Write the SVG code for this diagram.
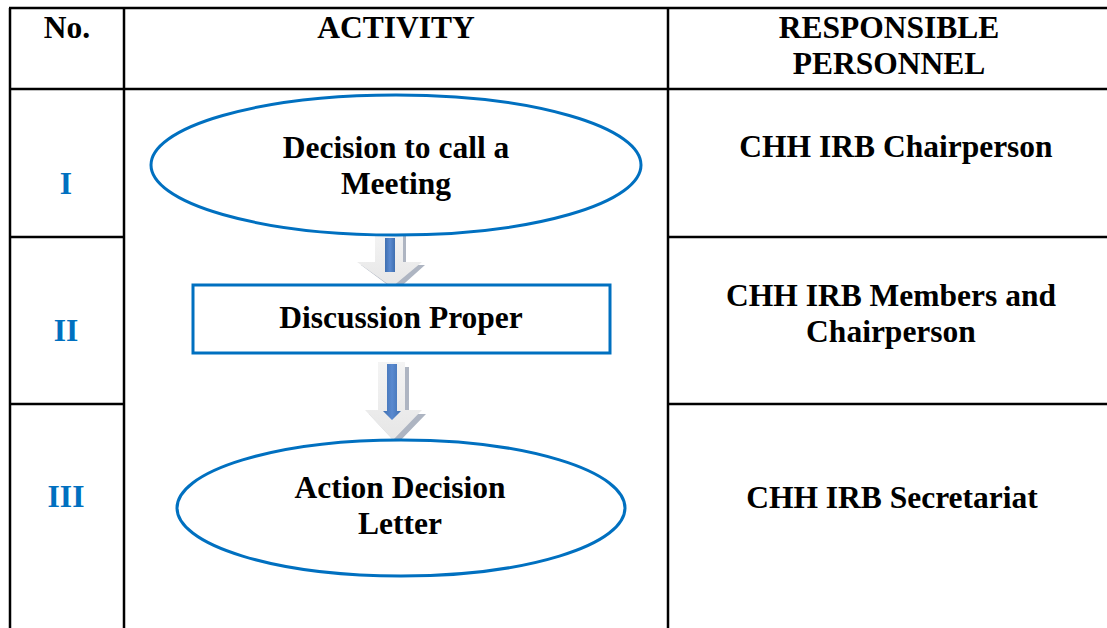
<svg xmlns="http://www.w3.org/2000/svg" width="1107" height="628" viewBox="0 0 1107 628">
<style>
.grid{stroke:#000;stroke-width:2.5;fill:none}
.hd{font-family:"Liberation Serif","Times New Roman",serif;font-weight:bold;font-size:31.5px;fill:#000;text-anchor:middle}
.num{font-family:"Liberation Serif","Times New Roman",serif;font-weight:bold;font-size:31.5px;fill:#0070C0;text-anchor:middle}
.shape{fill:#fff;stroke:#0070C0;stroke-width:3}
</style>
<defs>
<linearGradient id="blue" x1="0" y1="0" x2="1" y2="0">
<stop offset="0" stop-color="#3f6fb0"/><stop offset="0.5" stop-color="#5a8ad0"/><stop offset="1" stop-color="#3f6fb0"/>
</linearGradient>
<linearGradient id="gray" x1="0" y1="0" x2="0" y2="1">
<stop offset="0" stop-color="#f4f4f4"/><stop offset="1" stop-color="#e6e6e6"/>
</linearGradient>
</defs>
<rect width="1107" height="628" fill="#fff"/>
<g id="table">
<line class="grid" x1="9" y1="8" x2="1107" y2="8"/>
<line class="grid" x1="9" y1="89" x2="1107" y2="89"/>
<line class="grid" x1="10" y1="8" x2="10" y2="628"/>
<line class="grid" x1="124" y1="8" x2="124" y2="628"/>
<line class="grid" x1="668" y1="8" x2="668" y2="628"/>
<line class="grid" x1="9" y1="237" x2="124" y2="237"/>
<line class="grid" x1="668" y1="237" x2="1107" y2="237"/>
<line class="grid" x1="9" y1="404" x2="124" y2="404"/>
<line class="grid" x1="668" y1="404" x2="1107" y2="404"/>
<text class="hd" x="67" y="38">No.</text>
<text class="hd" x="396" y="38">ACTIVITY</text>
<text class="hd" x="889" y="38">RESPONSIBLE</text>
<text class="hd" x="889" y="74">PERSONNEL</text>
<text class="num" x="66" y="194">I</text>
<text class="num" x="66" y="341">II</text>
<text class="num" x="66" y="507">III</text>
<text class="hd" x="896" y="157">CHH IRB Chairperson</text>
<text class="hd" x="891" y="306">CHH IRB Members and</text>
<text class="hd" x="891" y="342">Chairperson</text>
<text class="hd" x="892" y="508">CHH IRB Secretariat</text>
</g>
<g id="connectors">
<g id="arrow1">
<path d="M379 236 H406 V265 H425 L396 291 L361 265 H379 Z" fill="#9aa3b3" opacity="0.8"/>
<path d="M375 232 H403 V262 H422 L392 287 L357 262 H375 Z" fill="url(#gray)"/>
<rect x="385" y="238" width="10" height="34" fill="url(#blue)"/>
</g>
<g id="arrow2">
<path d="M382 367 H409 V414 H426 L397 444 L369 414 H382 Z" fill="#9aa3b3" opacity="0.8"/>
<path d="M378 362 H405 V410 H422 L393 440 L365 410 H378 Z" fill="url(#gray)"/>
<path d="M387 364 H397 V411 H401 L392 420 L383 411 H387 Z" fill="url(#blue)"/>
</g>
</g>
<g id="node1">
<ellipse class="shape" cx="396" cy="165" rx="245" ry="70"/>
<text class="hd" x="396" y="158">Decision to call a</text>
<text class="hd" x="396" y="194">Meeting</text>
</g>
<g id="node2">
<rect class="shape" x="193" y="285" width="417" height="68"/>
<text class="hd" x="401" y="328">Discussion Proper</text>
</g>
<g id="node3">
<ellipse class="shape" cx="401" cy="508" rx="224" ry="68"/>
<text class="hd" x="400" y="498">Action Decision</text>
<text class="hd" x="400" y="534">Letter</text>
</g>
</svg>
